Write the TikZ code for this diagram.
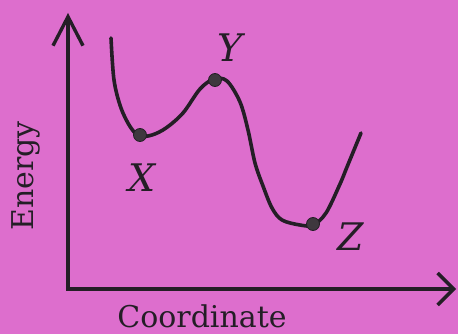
\documentclass[tikz,border=0pt]{standalone}
\usepackage{fontspec}
\setmainfont{DejaVu Serif}
\usetikzlibrary{arrows.meta}
\definecolor{bgpink}{RGB}{221,110,205}
\definecolor{ink}{RGB}{36,30,38}
\definecolor{dotgray}{RGB}{62,56,62}
\begin{document}
\begin{tikzpicture}[x=1pt,y=-1pt,
  axis/.style={draw=ink, line width=3.4pt},
  curve/.style={draw=ink, line width=3.6pt, line cap=round, line join=round},
  pt/.style={circle, fill=dotgray, draw=ink, line width=0.8pt, minimum size=13pt, inner sep=0pt},
  lbl/.style={inner sep=0pt, text=ink, font=\fontsize{38}{44}\selectfont\itshape},
  axlbl/.style={inner sep=0pt, text=ink, font=\fontsize{30}{36}\selectfont}]
\fill[bgpink] (0,0) rectangle (458,334);
\useasboundingbox (0,0) rectangle (458,334);
\coordinate (O) at (68,289);
\coordinate (ytip) at (68,13);
\coordinate (xtip) at (456,289);
\draw[axis, -{Straight Barb[length=29pt,width=30pt,line width=3.4pt]}] (O) -- (ytip);
\draw[axis, -{Straight Barb[length=16pt,width=32pt,line width=3.4pt]}] ([xshift=-1.7pt]O) -- (xtip);
\draw[curve] plot[smooth, tension=0.55] coordinates {
  (111,38) (114,80) (121,108) (131,128) (140,136) (152,135) (166,128)
  (183,113) (200,89) (214,79) (227,81) (240,102) (248,130) (255,163)
  (263,186) (272,208) (282,220) (300,225) (313,225) (326,213) (340,184) (347,167) (361,133)};
\node[pt] (dX) at (140,135) {};
\node[pt] (dY) at (215,80) {};
\node[pt] (dZ) at (313,224) {};
\node[lbl] (X) at (142,178) {X};
\node[lbl] (Y) at (230,48) {Y};
\node[lbl] (Z) at (351,237) {Z};
\node[axlbl, rotate=90] (energy) at (25.5,176) {Energy};
\node[axlbl] (coord) at (202,316.5) {Coordinate};
\end{tikzpicture}
\end{document}
